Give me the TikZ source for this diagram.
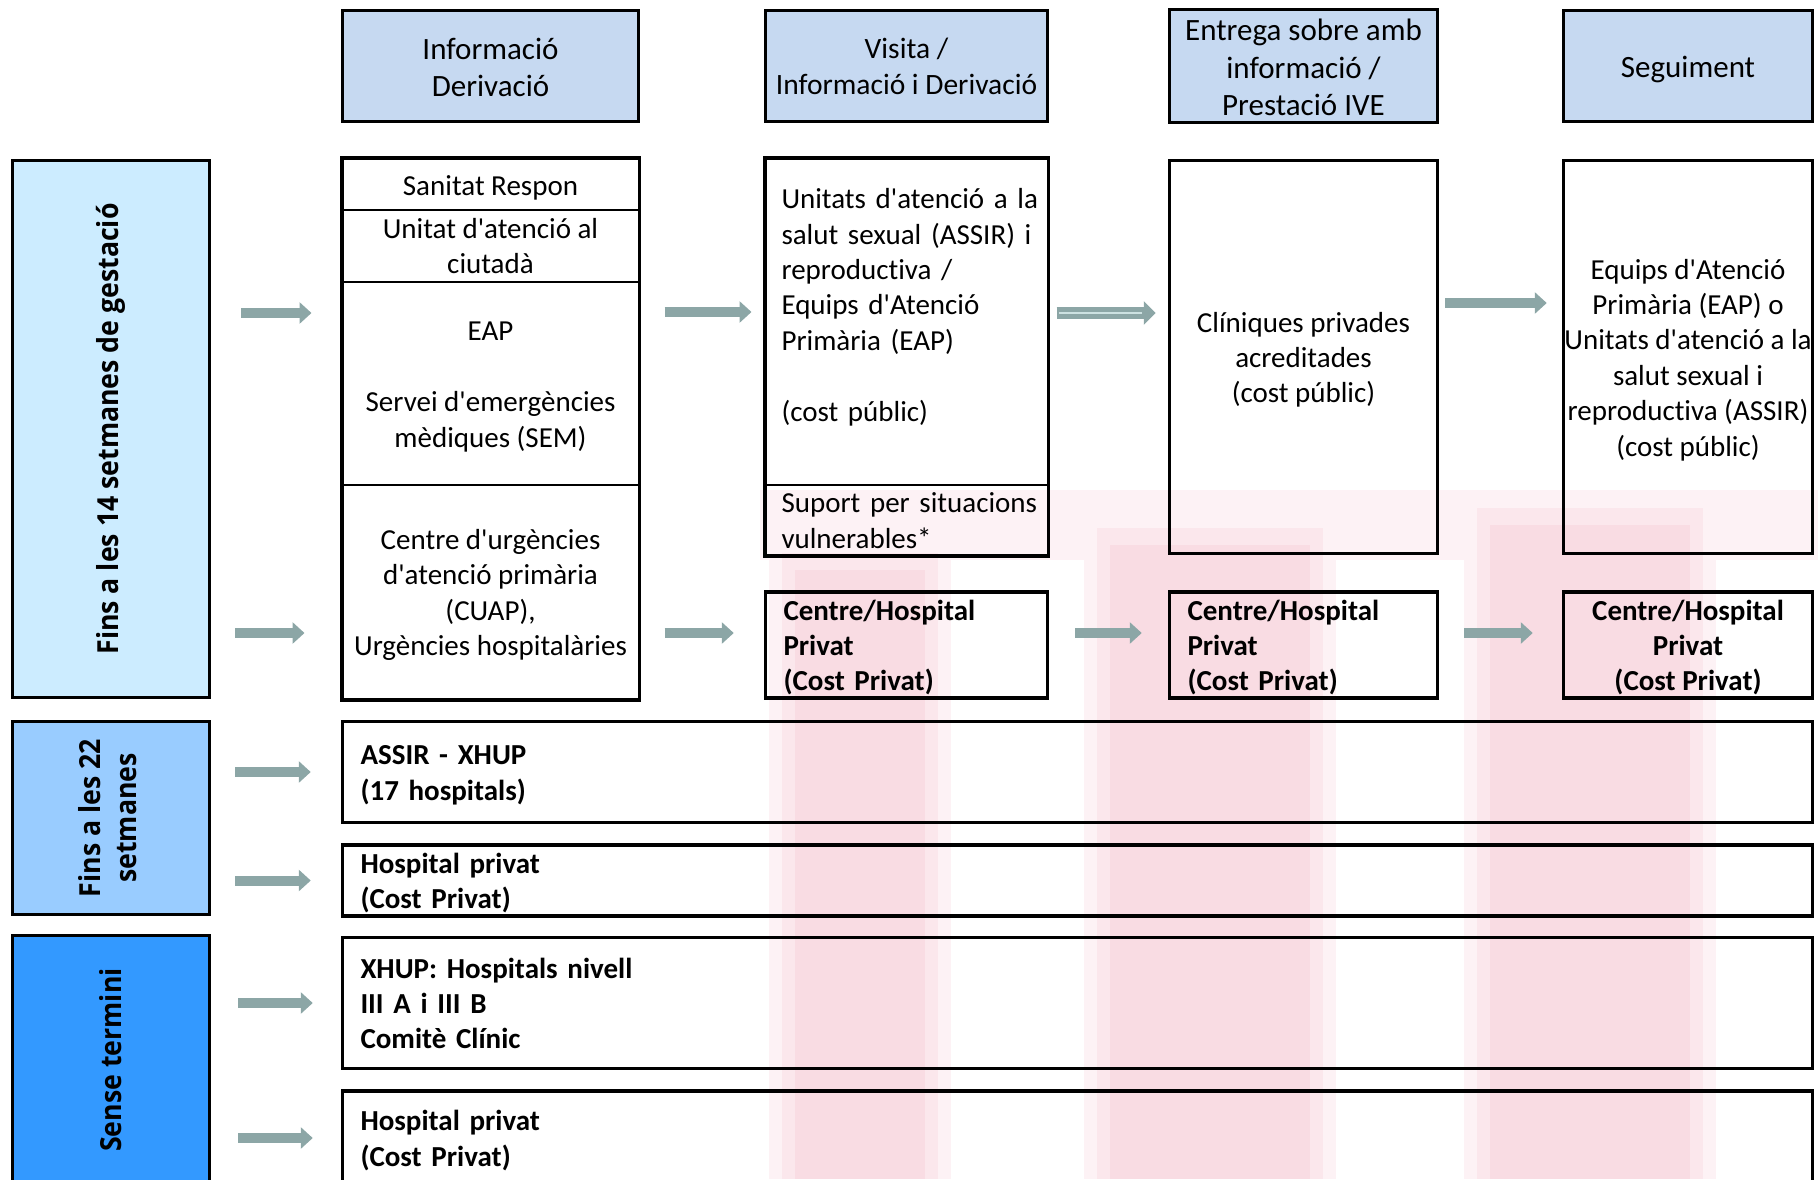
\documentclass[tikz,border=0pt]{standalone}
\usepackage{fontspec}
\usepackage{graphicx}
\setmainfont{Carlito}[Ligatures={TeXOff,CommonOff}]
\newfontfamily\lblfont[FakeStretch=0.92]{Open Sans}
\usetikzlibrary{arrows.meta}

\definecolor{hdrblue}{RGB}{198,217,241}
\definecolor{lblA}{RGB}{204,236,255}
\definecolor{lblB}{RGB}{153,204,255}
\definecolor{lblC}{RGB}{51,153,255}
\definecolor{arrowgray}{RGB}{140,166,166}
\definecolor{arrowlight}{RGB}{205,225,225}
\definecolor{wmpink}{RGB}{249,220,227}
\definecolor{wmmid}{RGB}{251,231,236}
\definecolor{wmsoft}{RGB}{253,242,245}

\newcommand{\bodysize}{\fontsize{29}{35.4}\selectfont}
\newcommand{\hdrsize}{\fontsize{31}{37.8}\selectfont}
% text blocks sit a little low in their boxes
\newcommand{\midlines}[1]{\raisebox{-3.5pt}[\height][\depth]{\begin{tabular}{@{}c@{}}#1\end{tabular}}}
\newcommand{\leftlines}[1]{\raisebox{-3.5pt}[\height][\depth]{\begin{tabular}{@{}l@{}}#1\end{tabular}}}

\tikzset{
  box/.style={draw, line width=3.5pt, inner sep=0pt, align=center, font=\bodysize},
  hdr/.style={box, fill=hdrblue, minimum height=111, font=\hdrsize},
  lbl/.style={box, minimum width=197, font={\lblfont\fontsize{29}{36}\selectfont\bfseries}},
  strong/.style={font=\bodysize\bfseries},
  flow/.style={draw=arrowgray, line width=10pt, -{Triangle[width=21pt,length=12pt]}},
}

\begin{document}
\begin{tikzpicture}[x=1pt, y=-1pt]
    \useasboundingbox (0,0) rectangle (1818,1179);
    \clip (0,0) rectangle (1818,1179);
    % faint watermark behind the table
    \fill[wmsoft] (760,490) rectangle (1818,560);
    \foreach \xa/\xb/\ya in {795/925/570, 1110/1310/545, 1490/1690/525} {
        \fill[wmsoft] (\xa-26,\ya-34) rectangle (\xb+26,1179);
        \fill[wmmid] (\xa-13,\ya-17) rectangle (\xb+13,1179);
        \fill[wmpink] (\xa,\ya) rectangle (\xb,1179);
    }

    % headers
    \node[hdr, minimum width=296] (hinfo) at (490.5,66) {\raisebox{-4.5pt}[\height][\depth]{\begin{tabular}{@{}c@{}}Informació\\Derivació\end{tabular}}};
    \node[hdr, minimum width=282, font=\fontsize{29.5}{36}\selectfont] (hvisita) at (906.5,66) {Visita /\\Informació i Derivació};
    \node[hdr, minimum width=268] (hentrega) at (1303.5,66) {\raisebox{-4.5pt}[\height][\depth]{\begin{tabular}{@{}c@{}}Entrega sobre amb\\informació /\\Prestació IVE\end{tabular}}};
    \node[hdr, minimum width=249] (hseg) at (1688,66) {\raisebox{-3.5pt}[\height][\depth]{Seguiment}};

    % row labels
    \node[lbl, fill=lblA, minimum height=537] (lab14) at (111,429) {\rotatebox{90}{Fins a les 14 setmanes de gestació}};
    \node[lbl, fill=lblB, minimum height=193] (lab22) at (111,818) {\rotatebox{90}{\begin{tabular}{@{}c@{}}Fins a les 22\\setmanes\end{tabular}}};
    \node[lbl, fill=lblC, minimum height=249] (labst) at (111,1060) {\rotatebox{90}{Sense termini}};

    % column 1
    \node[box, line width=2pt, minimum width=296, minimum height=51] (sanitat) at (490.5,184.5) {\midlines{Sanitat Respon}};
    \node[box, line width=2pt, minimum width=296, minimum height=72] (ciutada) at (490.5,246) {Unitat d'atenció al\\ciutadà};
    \node[box, line width=2pt, minimum width=296, minimum height=203] (eap) at (490.5,383.5) {\midlines{EAP\\[35.4pt]Servei d'emergències\\mèdiques (SEM)}};
    \node[box, line width=2pt, minimum width=296, minimum height=214] (cuap) at (490.5,592) {\midlines{Centre d'urgències\\d'atenció primària\\(CUAP),\\Urgències hospitalàries}};
    \draw[line width=3.5pt] (sanitat.north west) rectangle (cuap.south east);

    % column 2
    \node[box, line width=2pt, align=left, inner xsep=16, text width=250, minimum height=326] (assir) at (906.5,322) {\leftlines{Unitats d'atenció a la\\salut sexual (ASSIR) i\\reproductiva /\\Equips d'Atenció\\Primària (EAP)\\[35.4pt](cost públic)\\ ~}};
    \node[box, line width=2pt, align=left, inner xsep=16, text width=250, minimum height=70] (suport) at (906.5,520) {\leftlines{Suport per situacions\\vulnerables*}};
    \draw[line width=3.5pt] (assir.north west) rectangle (suport.south east);
    \node[box, strong, align=left, inner xsep=18, text width=246, minimum height=105] (priv2) at (906.5,645) {\leftlines{Centre/Hospital\\Privat\\(Cost Privat)}};

    % column 3
    \node[box, minimum width=268, minimum height=393] (clin) at (1303.5,357) {\midlines{Clíniques privades\\acreditades\\(cost públic)}};
    \node[box, strong, align=left, inner xsep=18, text width=232, minimum height=105] (priv3) at (1303.5,645) {\leftlines{Centre/Hospital\\Privat\\(Cost Privat)}};

    % column 4
    \node[box, minimum width=249, minimum height=393] (equips) at (1688,357) {\midlines{Equips d'Atenció\\Primària (EAP) o\\Unitats d'atenció a la\\salut sexual i\\reproductiva (ASSIR)\\(cost públic)}};
    \node[box, strong, minimum width=249, minimum height=105] (priv4) at (1688,645) {\midlines{Centre/Hospital\\Privat\\(Cost Privat)}};

    % full width rows
    \node[box, strong, align=left, inner xsep=18, text width=1434, minimum height=101] (xhup22) at (1077.5,772) {\leftlines{ASSIR - XHUP\\(17 hospitals)}};
    \node[box, strong, align=left, inner xsep=18, text width=1434, minimum height=68] (hosp22) at (1077.5,880.5) {\leftlines{Hospital privat\\(Cost Privat)}};
    \node[box, strong, align=left, inner xsep=18, text width=1434, minimum height=131] (xhup3) at (1077.5,1003) {\leftlines{XHUP: Hospitals nivell\\III A i III B\\Comitè Clínic}};
    \node[box, strong, align=left, inner xsep=18, text width=1434, minimum height=94] (hosp3) at (1077.5,1138) {\leftlines{Hospital privat\\(Cost Privat)}};

    % arrows, first row
    \draw[flow, shorten <=30pt, shorten >=30pt] (lab14.east |- 0,313) -- (eap.west |- 0,313);
    \draw[flow, shorten <=24pt, shorten >=37pt] (lab14.east |- 0,633) -- (cuap.west |- 0,633);
    \draw[flow, shorten <=25pt, shorten >=13pt] (eap.east |- 0,312) -- (assir.west |- 0,312);
    \draw[flow, shorten <=25pt, shorten >=30pt] (cuap.east |- 0,633) -- (priv2.west |- 0,633);
    \draw[flow, line width=12pt, -{Triangle[width=23pt,length=12pt]}, shorten <=8pt, shorten >=12pt] (assir.east |- 0,313) -- (clin.west |- 0,313);
    \draw[arrowlight, line width=1.5pt, shorten <=10pt, shorten >=26pt] (assir.east |- 0,313) -- (clin.west |- 0,313);
    \draw[flow, shorten <=26pt, shorten >=26pt] (priv2.east |- 0,633) -- (priv3.west |- 0,633);
    \draw[flow, shorten <=6pt, shorten >=15pt] (clin.east |- 0,303) -- (equips.west |- 0,303);
    \draw[flow, shorten <=25pt, shorten >=29pt] (priv3.east |- 0,633) -- (priv4.west |- 0,633);

    % arrows, lower rows
    \foreach \from/\to in {lab22/xhup22, lab22/hosp22}
        \draw[flow, shorten <=24pt, shorten >=30pt] (\from.east |- \to.west) -- (\to.west);
    \foreach \from/\to in {labst/xhup3, labst/hosp3}
        \draw[flow, shorten <=27pt, shorten >=28pt] (\from.east |- \to.west) -- (\to.west);
\end{tikzpicture}
\end{document}
